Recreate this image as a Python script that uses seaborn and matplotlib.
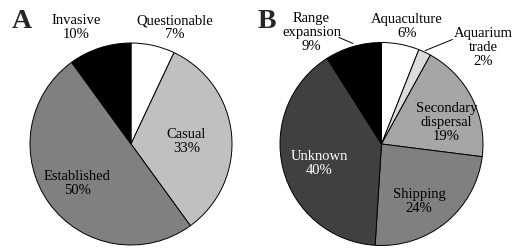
import matplotlib
matplotlib.use("Agg")
import matplotlib.pyplot as plt
import seaborn as sns

sns.set_style("white")
plt.rcParams['font.family'] = ['Liberation Serif', 'DejaVu Serif']

# Panel A: invasion status
status_labels = ['Questionable', 'Casual', 'Established', 'Invasive']
status_values = [7, 33, 50, 10]

# Panel B: introduction pathway
pathway_labels = ['Aquaculture', 'Aquarium\ntrade', 'Secondary\ndispersal',
                  'Shipping', 'Unknown', 'Range\nexpansion']
pathway_values = [6, 2, 19, 24, 40, 9]

colors_a = ['#ffffff', '#c0c0c0', '#808080', '#000000']
colors_b = ['#ffffff', '#dcdcdc', '#a6a6a6', '#808080', '#404040', '#000000']

# label placement (pie data coords, radius 1)
pos_a = [(0.43, 1.16), (0.55, 0.03), (-0.53, -0.38), (-0.54, 1.16)]
pos_b = [(0.25, 1.17), (1.0, 0.96), (0.64, 0.22), (0.37, -0.56),
         (-0.61, -0.18), (-0.69, 1.11)]
txtcol_b = ['black', 'black', 'black', 'black', 'white', 'black']

fig = plt.figure(figsize=(5.13, 2.51), dpi=100)
W, H = 513, 251


def pie_axes(cx, cy, r):
    return fig.add_axes([(cx - r) / W, (H - cy - r) / H, 2 * r / W, 2 * r / H])


def draw(ax, labels, values, colors, pos, tcols):
    ax.pie(values, colors=colors, startangle=90, counterclock=False,
           wedgeprops=dict(edgecolor='black', linewidth=0.7))
    ax.set_xlim(-1, 1)
    ax.set_ylim(-1, 1)
    ax.set_aspect('auto')
    for lab, v, (x, y), c in zip(labels, values, pos, tcols):
        ax.text(x, y, f"{lab}\n{v}%", ha='center', va='center', fontsize=10.5,
                color=c, linespacing=1.1, clip_on=False)


ax_a = pie_axes(131, 145, 101)
draw(ax_a, status_labels, status_values, colors_a, pos_a, ['black'] * 4)

ax_b = pie_axes(381.5, 145, 101.5)
draw(ax_b, pathway_labels, pathway_values, colors_b, pos_b, txtcol_b)
ax_b.plot([-0.42, -0.28], [1.05, 0.99], color='black', lw=0.7, clip_on=False)
ax_b.plot([0.70, 0.43], [1.03, 0.92], color='black', lw=0.7, clip_on=False)

fig.text(22 / W, 1 - 22 / H, 'A', fontsize=20, fontweight='bold',
         ha='center', va='center')
fig.text(267 / W, 1 - 21 / H, 'B', fontsize=20, fontweight='bold',
         ha='center', va='center')

fig.savefig('out.png', dpi=100)
